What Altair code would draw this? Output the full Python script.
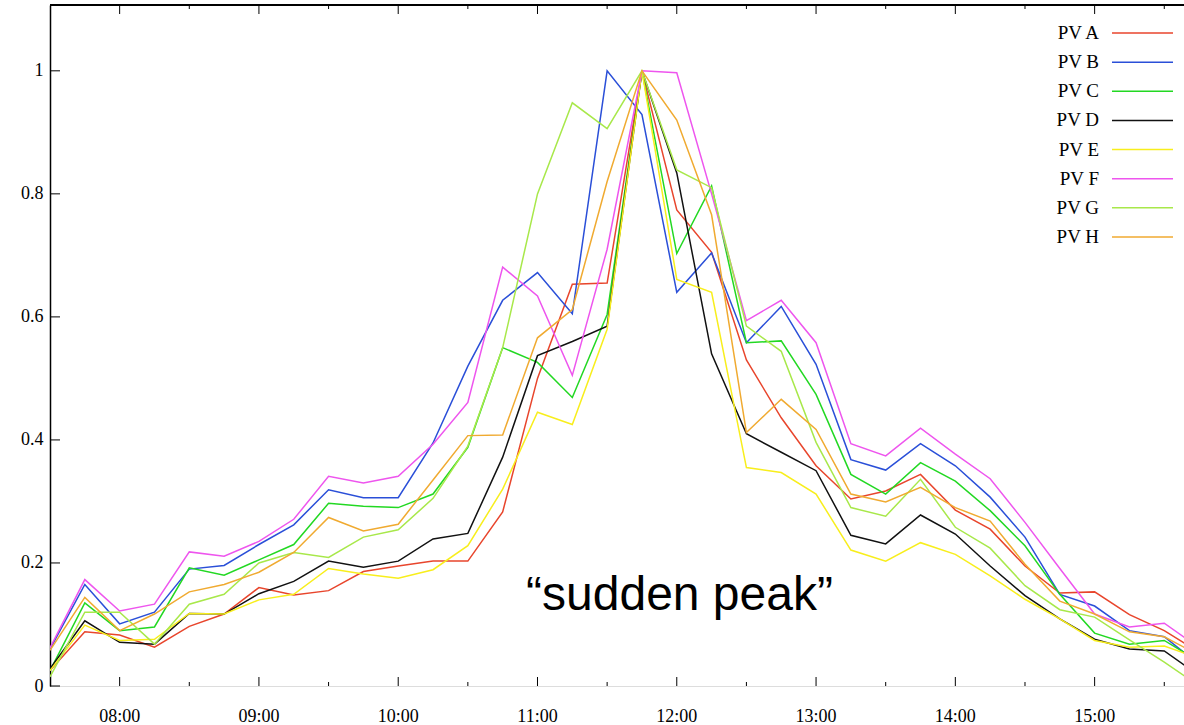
import altair as alt
import pandas as pd

times = ["07:30", "07:45", "08:00", "08:15", "08:30", "08:45", "09:00", "09:15",
         "09:30", "09:45", "10:00", "10:15", "10:30", "10:45", "11:00", "11:15",
         "11:30", "11:45", "12:00", "12:15", "12:30", "12:45", "13:00", "13:15",
         "13:30", "13:45", "14:00", "14:15", "14:30", "14:45", "15:00", "15:15",
         "15:30", "15:45"]

names = ["PV A", "PV B", "PV C", "PV D", "PV E", "PV F", "PV G", "PV H"]
colors = ["#e8452c", "#2a4fd8", "#22d822", "#111111", "#f8ee1c", "#ee55ee", "#a8e84a", "#f0aa30"]

pv_a = [0.025, 0.088, 0.083, 0.063, 0.097, 0.117, 0.160, 0.148, 0.155, 0.186, 0.195, 0.203,
        0.203, 0.283, 0.500, 0.653, 0.655, 1.000, 0.774, 0.705, 0.530, 0.436, 0.358, 0.304,
        0.317, 0.344, 0.286, 0.255, 0.195, 0.151, 0.153, 0.116, 0.090, 0.055]
pv_b = [0.060, 0.165, 0.101, 0.120, 0.190, 0.196, 0.230, 0.262, 0.319, 0.306, 0.306, 0.395,
        0.520, 0.627, 0.672, 0.605, 1.000, 0.929, 0.640, 0.704, 0.558, 0.617, 0.523, 0.368,
        0.351, 0.394, 0.358, 0.307, 0.242, 0.149, 0.130, 0.090, 0.080, 0.035]
pv_c = [0.025, 0.135, 0.090, 0.096, 0.192, 0.180, 0.205, 0.230, 0.297, 0.292, 0.290, 0.312,
        0.388, 0.550, 0.526, 0.469, 0.604, 1.000, 0.703, 0.813, 0.558, 0.561, 0.474, 0.344,
        0.312, 0.363, 0.333, 0.285, 0.228, 0.149, 0.086, 0.068, 0.074, 0.040]
pv_d = [0.028, 0.106, 0.071, 0.068, 0.118, 0.117, 0.150, 0.170, 0.203, 0.193, 0.203, 0.239,
        0.248, 0.372, 0.537, 0.560, 0.585, 1.000, 0.834, 0.540, 0.410, 0.380, 0.350, 0.245,
        0.231, 0.278, 0.247, 0.195, 0.147, 0.109, 0.076, 0.060, 0.057, 0.017]
pv_e = [0.025, 0.099, 0.074, 0.076, 0.118, 0.117, 0.140, 0.149, 0.191, 0.182, 0.175, 0.189,
        0.228, 0.320, 0.445, 0.425, 0.580, 1.000, 0.661, 0.640, 0.355, 0.347, 0.312, 0.221,
        0.203, 0.233, 0.214, 0.179, 0.141, 0.109, 0.074, 0.063, 0.065, 0.045]
pv_f = [0.062, 0.173, 0.122, 0.133, 0.218, 0.211, 0.235, 0.271, 0.341, 0.330, 0.341, 0.393,
        0.461, 0.681, 0.634, 0.505, 0.710, 1.000, 0.997, 0.800, 0.594, 0.627, 0.558, 0.394,
        0.374, 0.419, 0.377, 0.337, 0.266, 0.191, 0.117, 0.096, 0.102, 0.062]
pv_g = [0.015, 0.120, 0.120, 0.068, 0.133, 0.149, 0.200, 0.217, 0.209, 0.242, 0.254, 0.305,
        0.390, 0.550, 0.800, 0.948, 0.906, 1.000, 0.839, 0.810, 0.585, 0.544, 0.396, 0.290,
        0.276, 0.336, 0.258, 0.224, 0.163, 0.124, 0.112, 0.075, 0.039, 0.000]
pv_h = [0.058, 0.144, 0.090, 0.117, 0.153, 0.165, 0.185, 0.217, 0.274, 0.252, 0.263, 0.335,
        0.407, 0.408, 0.566, 0.612, 0.820, 1.000, 0.920, 0.766, 0.412, 0.466, 0.417, 0.312,
        0.299, 0.323, 0.290, 0.268, 0.198, 0.138, 0.117, 0.088, 0.080, 0.050]

series = [pv_a, pv_b, pv_c, pv_d, pv_e, pv_f, pv_g, pv_h]

x_labels = ["08:00", "09:00", "10:00", "11:00", "12:00", "13:00", "14:00", "15:00"]
x_minor = ["08:30", "09:30", "10:30", "11:30", "12:30", "13:30", "14:30", "15:30"]
y_ticks = [0, 0.2, 0.4, 0.6, 0.8, 1.0]
annotation = "\u201csudden peak\u201d"

DAY = "2024-01-01T"


def stamp(t):
    return DAY + t + ":00"


rows = []
for name, vals in zip(names, series):
    for t, v in zip(times, vals):
        rows.append({"time": stamp(t), "series": name, "value": v})
df = pd.DataFrame(rows)

W, H = 1134, 681
SERIF = "Liberation Serif"


def dt(h, m, s=0):
    return alt.DateTime(year=2024, month=1, date=1, hours=h, minutes=m, seconds=s)


xscale = alt.Scale(domain=[dt(7, 30), dt(15, 38, 30)])
yscale = alt.Scale(domain=[0, 1.107], nice=False, zero=False)
cscale = alt.Scale(domain=names, range=colors)

x_axis = alt.Axis(
    labels=False, ticks=False, tickSize=0, domainColor="black", domainWidth=1.5,
    grid=False, title=None,
)
y_axis = alt.Axis(
    values=y_ticks, format="~g", labelFont=SERIF, labelFontSize=18, labelColor="black",
    ticks=False, tickSize=0, labelPadding=7, domainColor="black", domainWidth=1.5,
    grid=False, title=None,
)

lines = alt.Chart(df).mark_line(strokeWidth=1.5, clip=True).encode(
    x=alt.X("time:T", scale=xscale, axis=x_axis),
    y=alt.Y("value:Q", scale=yscale, axis=y_axis),
    color=alt.Color("series:N", scale=cscale, legend=None),
    order=alt.Order("time:T"),
)

major_df = pd.DataFrame({"time": [stamp(t) for t in x_labels], "label": x_labels})
minor_df = pd.DataFrame({"time": [stamp(t) for t in x_minor]})
ytick_df = pd.DataFrame({"v": y_ticks})

tx = alt.X("time:T", scale=xscale, axis=None)
bot_major = alt.Chart(major_df).mark_rule(color="black", strokeWidth=1).encode(
    x=tx, y=alt.value(H), y2=alt.value(H - 9))
bot_minor = alt.Chart(minor_df).mark_rule(color="black", strokeWidth=1).encode(
    x=tx, y=alt.value(H), y2=alt.value(H - 4))
top_major = alt.Chart(major_df).mark_rule(color="black", strokeWidth=1).encode(
    x=tx, y=alt.value(0), y2=alt.value(9))
top_minor = alt.Chart(minor_df).mark_rule(color="black", strokeWidth=1).encode(
    x=tx, y=alt.value(0), y2=alt.value(4))
x_text = alt.Chart(major_df).mark_text(
    align="center", baseline="alphabetic", font=SERIF, fontSize=18, color="black"
).encode(x=tx, y=alt.value(H + 36), text="label:N")
left_ticks = alt.Chart(ytick_df).mark_rule(color="black", strokeWidth=1).encode(
    y=alt.Y("v:Q", scale=yscale, axis=None), x=alt.value(0), x2=alt.value(10))
top_border = alt.Chart(major_df).mark_rule(color="black", strokeWidth=1.5).encode(
    x=alt.value(0), x2=alt.value(W + 2), y=alt.value(0))

legend_df = pd.DataFrame({"series": names})
ly = alt.Y("series:N", scale=alt.Scale(type="point", domain=names, range=[28, 232], padding=0), axis=None)
leg_text = alt.Chart(legend_df).mark_text(
    align="right", baseline="middle", font=SERIF, fontSize=19, color="black"
).encode(y=ly, x=alt.value(1049), text="series:N")
leg_lines = alt.Chart(legend_df).mark_rule(strokeWidth=1.5).encode(
    y=ly, x=alt.value(1062), x2=alt.value(1123),
    color=alt.Color("series:N", scale=cscale, legend=None))

annot_df = pd.DataFrame({"label": [annotation]})
annot = alt.Chart(annot_df).mark_text(
    align="center", baseline="alphabetic", font="Liberation Sans", fontSize=48, color="black"
).encode(x=alt.value(629.5), y=alt.value(605), text="label:N")

chart = alt.layer(
    lines, bot_major, bot_minor, top_major, top_minor, x_text, left_ticks, top_border,
    leg_lines, leg_text, annot
).resolve_scale(y="independent").properties(
    width=W, height=H,
    autosize=alt.AutoSizeParams(type="none"),
    padding={"left": 50, "top": 5, "right": 0, "bottom": 39},
).configure_view(stroke=None).configure(background="white")

chart.save("out.html", embed_options={"renderer": "svg", "actions": False})
